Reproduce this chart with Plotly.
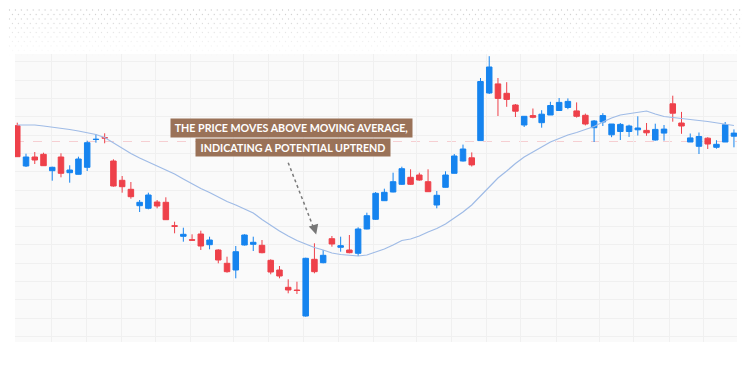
import plotly.graph_objects as go
import urllib.parse

# ---- data (price units) ----
open_ = [274.3, 234, 243, 245.7, 229.3, 243, 227.3, 225.7, 232.7, 260.5,
         262.3, 239, 219.7, 210.7, 194.3, 191.7, 198, 197.7, 174.3, 163.7,
         160.3, 166, 155.3, 150, 136.7, 130, 155, 155.7, 154.7, 139.7,
         130, 112.7, 110, 84, 140.7, 137.3, 161.3, 152.7, 150, 146.7,
         171, 180.7, 199.3, 208, 215.7, 222.7, 225, 218.3, 195, 212.7,
         226.7, 239, 242.2, 259.4, 307, 316.1, 306.7, 295, 275, 284.4,
         277.3, 285, 289.5, 292.5, 289.1, 284.7, 272.3, 278, 265.2, 268.5,
         268.5, 270.2, 269.6, 260, 266.9, 296.2, 277, 258, 253.7, 261.8,
         252.7, 258, 263.8]
high = [277.3, 246.3, 248, 247.3, 233.3, 246.7, 234.7, 243.3, 259.3, 265.7,
        266.7, 240.7, 224, 218, 200, 207.3, 200, 202.7, 178.3, 172.3,
        165.7, 169.3, 163.3, 150.7, 143.3, 154, 165.7, 163.3, 160, 140.7,
        134, 120.7, 118.3, 142.3, 156.7, 150, 164, 163.3, 165, 172.7,
        187.3, 208, 211.3, 227.3, 233.3, 230.7, 227.3, 230.7, 209, 228.7,
        246, 255.4, 247.6, 322, 343.8, 322, 317.8, 296, 284, 291.5,
        289.8, 298.2, 302, 301.6, 297.6, 286.4, 280, 286.8, 276, 277,
        275.3, 283.7, 277, 276.3, 275, 304.3, 288.1, 266.5, 267.5, 262.8,
        259.8, 278, 270.6]
low = [243, 233, 236, 234, 219.3, 222.7, 217.3, 225.5, 229, 257.3,
       256.7, 213.3, 207.3, 201.3, 188, 190.7, 191.7, 180, 166.7, 158.3,
       159.3, 150, 150.7, 136.7, 127.3, 121.7, 154.5, 149, 146.7, 125.7,
       121.7, 106.7, 106, 83.3, 126.7, 136.7, 153.3, 148.3, 146.7, 144,
       170.7, 180, 199, 207.7, 215, 215, 219.3, 208, 191.7, 212.5,
       226.5, 238.5, 233.5, 259.4, 306, 284, 293.2, 283, 273, 281.7,
       272.3, 285, 289.5, 290.8, 282.4, 274.6, 258, 274, 262.8, 260,
       263.1, 264.5, 264.2, 259.4, 259.4, 278.3, 266.2, 258, 246, 251,
       251.3, 258, 252.7]
close = [243.3, 243, 240, 234.3, 232.7, 226.7, 230, 241, 257.3, 260.7,
         262, 214, 213.3, 203.3, 197.7, 205, 194, 180.3, 173.7, 165.7,
         159.8, 154, 160, 140, 128.3, 148.3, 165, 157.7, 147.3, 128,
         124, 110, 109.5, 141.7, 128.3, 144.7, 156, 154.3, 147.3, 171,
         184.3, 206.7, 207.7, 218.3, 231.3, 215.7, 220, 208.3, 204.7, 225,
         244, 251, 235.1, 318.5, 333, 301.6, 300.6, 288.8, 283.7, 282.7,
         285.8, 294.5, 297.6, 298.6, 283.7, 276, 279, 284.4, 276, 275.6,
         274, 272, 267.2, 270.6, 270.9, 286.8, 274, 262.1, 263.5, 256,
         255.7, 275.3, 266.9]
moving_avg = [275, 275, 275, 274, 273, 271.5, 270.5, 269, 267.5, 265.5,
              262.5, 257, 252, 246.5, 242, 238, 234, 230, 226, 221,
              216, 211.5, 207.5, 203, 198.5, 195, 191, 187, 180.5, 174.5,
              169, 164, 159.5, 156, 152.5, 150, 147, 145.5, 144.5, 144,
              145, 148, 151, 155, 159.5, 161, 164, 168, 171.5, 176,
              182, 188, 195, 204, 213, 222, 229, 236.5, 243, 248,
              253.5, 258, 261.5, 265, 267.5, 270.5, 273.5, 278, 282, 285,
              286.5, 288, 289, 286, 283.5, 282.5, 281.7, 280.5, 279.5, 278.5,
              277, 275.5, 274.5]
bars = list(range(len(close)))
grid_x = [3.97, 7.97, 11.92, 15.87, 19.87, 24.79, 28.8, 32.8, 36.8, 40.8,
          45.73, 49.74, 53.74, 57.63, 61.75, 66.67, 70.56, 74.57, 78.57]
last_price_level = 258.5
note_line1 = "THE PRICE MOVES ABOVE MOVING AVERAGE,"
note_line2 = "INDICATING A POTENTIAL UPTREND"

BLUE = "#1684ef"
RED = "#ee414a"
BROWN = "#9a7258"

fig = go.Figure()
fig.add_trace(go.Candlestick(
    x=bars, open=open_, high=high, low=low, close=close,
    increasing=dict(line=dict(color=BLUE, width=1), fillcolor=BLUE),
    decreasing=dict(line=dict(color=RED, width=1), fillcolor=RED),
    whiskerwidth=0, showlegend=False, hoverinfo="skip"))
fig.add_trace(go.Scatter(
    x=bars, y=moving_avg, mode="lines",
    line=dict(color="#9fbbe6", width=1.2), showlegend=False, hoverinfo="skip"))

# faint last-price line
fig.add_shape(type="line", xref="paper", x0=0, x1=1, y0=last_price_level, y1=last_price_level,
              line=dict(color="rgba(240,110,118,0.3)", width=1, dash="dash"), layer="below")

# dotted arrow body
fig.add_shape(type="line", x0=31.0, y0=237.3, x1=34.0, y1=170.0,
              line=dict(color="#7a7a7a", width=1.5, dash="dot"))
fig.add_annotation(x=34.2, y=165.5, ax=-2, ay=-7, text="", showarrow=True,
                   arrowhead=2, arrowsize=1.3, arrowwidth=1.5, arrowcolor="#777777")

font = dict(family="Lato, 'Open Sans', sans-serif", size=10.7, color="white", weight="bold")
fig.add_annotation(x=31.35, y=272, text=note_line1, showarrow=False, font=font,
                   bgcolor=BROWN, borderpad=1, width=239, height=15.5)
fig.add_annotation(x=31.55, y=252.3, text=note_line2, showarrow=False, font=font,
                   bgcolor=BROWN, borderpad=1, width=192, height=14.8)

# the page body has an 8px margin; compensate so the plot sits where the reference has it
OFF = 8
L, R, T, B = 15 - OFF, 13, 54 - OFF, 26
W, H = 750 - OFF, 368 - OFF
PW, PH = W - L - R, H - T - B

# dotted halftone header background
svg = ('<svg xmlns="http://www.w3.org/2000/svg" width="750" height="48">'
       '<defs><pattern id="p" width="6" height="9" patternUnits="userSpaceOnUse">'
       '<circle cx="1.5" cy="2" r="0.65" fill="#c8c8c8"/><circle cx="4.5" cy="6.5" r="0.65" fill="#c8c8c8"/>'
       '</pattern><linearGradient id="g" x1="0" y1="0" x2="0" y2="1">'
       '<stop offset="0" stop-color="white" stop-opacity="1"/>'
       '<stop offset="1" stop-color="white" stop-opacity="0"/></linearGradient>'
       '<mask id="m"><rect width="750" height="48" fill="url(#g)"/></mask></defs>'
       '<rect width="750" height="48" fill="url(#p)" mask="url(#m)"/></svg>')
src = "data:image/svg+xml;charset=utf-8," + urllib.parse.quote(svg)
fig.add_layout_image(source=src, xref="paper", yref="paper",
                     x=-L / PW, y=1 + T / PH, sizex=W / PW, sizey=48 / PH,
                     xanchor="left", yanchor="top", sizing="stretch", layer="below")

fig.update_layout(
    width=W, height=H, margin=dict(l=L, r=R, t=T, b=B),
    paper_bgcolor="white", plot_bgcolor="#fafafa",
    boxgap=0.1,
    xaxis=dict(range=[-0.26, 82.35], showticklabels=False, tickmode="array", tickvals=grid_x,
               ticks="", showgrid=True, gridcolor="#f0f0f0", gridwidth=1, zeroline=False,
               rangeslider=dict(visible=False), showline=False),
    yaxis=dict(range=[58, 346], showticklabels=False, tick0=228.3, dtick=18.3, ticks="",
               showgrid=True, gridcolor="#f0f0f0", gridwidth=1, zeroline=False, showline=False),
)
fig.write_html("out.html")
